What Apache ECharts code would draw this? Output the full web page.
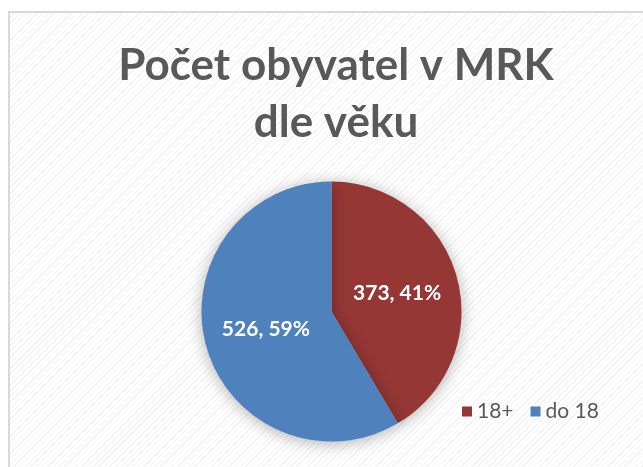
<!DOCTYPE html>
<html>
<head>
<meta charset="utf-8">
<script src="https://cdn.jsdelivr.net/npm/echarts@6/dist/echarts.min.js"></script>
<style>
html,body{margin:0;padding:0;background:#fff;}
#frame{position:absolute;left:8px;top:11px;width:700px;height:520px;border:2px solid #d9d9d9;
background:repeating-linear-gradient(135deg,#ffffff 0px,#ffffff 3px,#f2f2f2 3px,#f2f2f2 4px);}
#chart{position:absolute;left:0;top:0;width:643px;height:467px;}
</style>
</head>
<body>
<div id="frame"></div>
<div id="chart"></div>
<script>
const titleLines = ['Počet obyvatel v MRK', 'dle věku'];
const categories = ['18+', 'do 18'];
const values = [373, 526];
const colors = ['#953735', '#4F81BD'];

const chart = echarts.init(document.getElementById('chart'), null, {renderer: 'canvas'});
chart.setOption({
  backgroundColor: 'transparent',
  animation: false,
  title: {
    text: titleLines.join('\n'),
    left: 331, textAlign: 'center', top: 32,
    textStyle: {fontFamily: 'Lato', fontWeight: 'bold', fontSize: 44, color: '#595959', lineHeight: 57}
  },
  legend: {
    data: categories, left: 457, top: 396, icon: 'rect', itemWidth: 10, itemHeight: 10, itemGap: 17,
    textStyle: {fontFamily: 'Lato', fontSize: 21, color: '#595959'}
  },
  series: [{
    type: 'pie', center: [331.5, 311.5], radius: 130, startAngle: 90, clockwise: true,
    data: categories.map((c, i) => ({name: c, value: values[i], itemStyle: {color: colors[i]}})),
    itemStyle: {shadowBlur: 16, shadowColor: 'rgba(0,0,0,0.3)', shadowOffsetY: 2},
    label: {
      position: 'inside', color: '#fff', fontFamily: 'Lato', fontWeight: 'bold', fontSize: 21,
      formatter: p => p.value + ', ' + Math.round(p.percent) + '%'
    },
    labelLine: {show: false}
  }]
});
</script>
</body>
</html>
